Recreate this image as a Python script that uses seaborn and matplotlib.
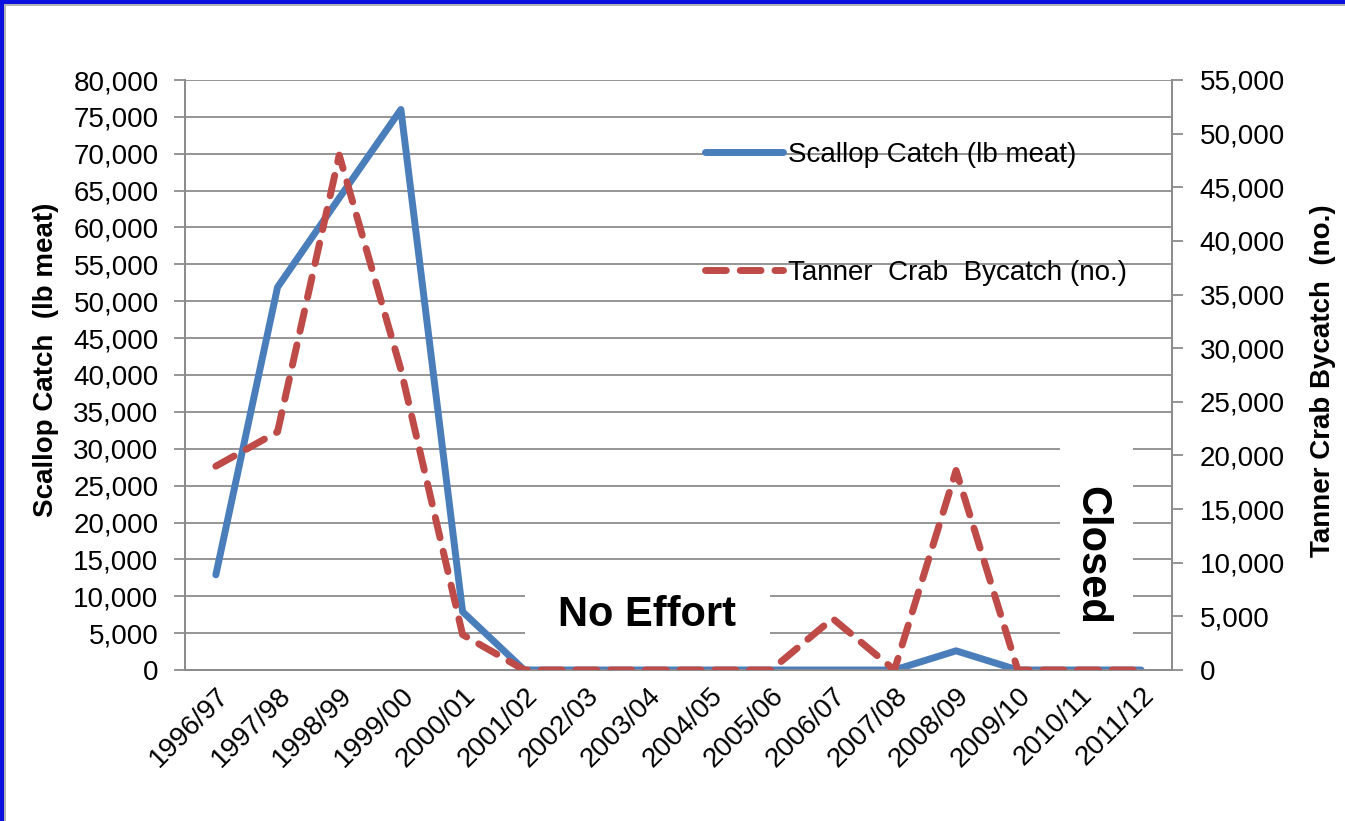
import matplotlib
matplotlib.use("Agg")
import matplotlib.pyplot as plt
from matplotlib.patches import Rectangle
import pandas as pd
import seaborn as sns

seasons = ['1996/97', '1997/98', '1998/99', '1999/00', '2000/01', '2001/02', '2002/03', '2003/04',
           '2004/05', '2005/06', '2006/07', '2007/08', '2008/09', '2009/10', '2010/11', '2011/12']
scallop_lb = [12900, 51900, 64000, 76000, 7900, 0, 0, 0, 0, 0, 0, 0, 2600, 0, 0, 0]
tanner_no = [19000, 22200, 48000, 28000, 3300, 0, 0, 0, 0, 0, 4800, 0, 18600, 0, 0, 0]

left_ticks = list(range(0, 80001, 5000))
right_ticks = list(range(0, 55001, 5000))

df = pd.DataFrame({'Season': seasons, 'Scallop': scallop_lb, 'Tanner': tanner_no})

sns.set_style('white')
plt.rcParams['font.family'] = ['Liberation Sans', 'DejaVu Sans']
plt.rcParams['text.color'] = 'black'
plt.rcParams['axes.labelcolor'] = 'black'
plt.rcParams['xtick.color'] = 'black'
plt.rcParams['ytick.color'] = 'black'

blue = '#4A7EBB'
red = '#BE4B48'
grey = '#8C8C8C'

fig = plt.figure(figsize=(13.45, 8.21), dpi=100)
ax = fig.add_axes([185/1345, 1-670/821, 987/1345, 590/821])
ax2 = ax.twinx()

sns.lineplot(data=df, x='Season', y='Scallop', ax=ax, color=blue, linewidth=5,
             label='Scallop Catch (lb meat)', legend=False, sort=False,
             solid_capstyle='round', zorder=3)
sns.lineplot(data=df, x='Season', y='Tanner', ax=ax2, color=red, linewidth=5,
             label='Tanner  Crab  Bycatch (no.)', legend=False, sort=False,
             dashes=False, zorder=3)
red_line = ax2.get_lines()[0]
red_line.set_dashes((3.0, 2.0))
red_line.set_dash_capstyle('round')

ax.set_xlim(-0.5, len(seasons) - 0.5)
ax.set_ylim(0, 80000)
ax2.set_ylim(0, 55000)
ax.set_yticks(left_ticks)
ax2.set_yticks(right_ticks)
ax.set_yticklabels([f'{v:,}' for v in left_ticks], fontsize=20)
ax2.set_yticklabels([f'{v:,}' for v in right_ticks], fontsize=20)

ax.set_xticks(range(len(seasons)))
ax.set_xticklabels(seasons, rotation=45, ha='right', rotation_mode='anchor', fontsize=20)
ax.set_xticks([i - 0.5 for i in range(len(seasons) + 1)], minor=True)
ax.tick_params(axis='x', which='major', length=0, pad=9)
ax.tick_params(axis='x', which='minor', length=8, width=1.3, color=grey, direction='out')
ax.tick_params(axis='y', length=8, width=1.3, color=grey, direction='out', left=True, pad=11)
ax2.tick_params(axis='y', length=8, width=1.3, color=grey, direction='out', right=True, pad=12)

ax.yaxis.grid(True, color=grey, linewidth=1.3)
ax.xaxis.grid(False)
for a in (ax, ax2):
    for s in ('left', 'right', 'bottom'):
        a.spines[s].set_color(grey)
        a.spines[s].set_linewidth(1.3)
    a.spines['top'].set_visible(False)

ax.set_xlabel('')
ax.set_ylabel('Scallop Catch  (lb meat)', fontsize=20, fontweight='bold')
ax.yaxis.set_label_coords(-0.128, 0.525)
ax2.set_ylabel('Tanner Crab Bycatch  (no.)', fontsize=20, fontweight='bold')
ax2.yaxis.set_label_coords(1.140, 0.49)

# white boxes behind the notes, hiding the grid
ax.add_patch(Rectangle((0.344, 0.025), 0.249, 0.122, transform=ax.transAxes,
                       facecolor='white', edgecolor='none', zorder=1.8))
ax.add_patch(Rectangle((0.887, 0.025), 0.073, 0.355, transform=ax.transAxes,
                       facecolor='white', edgecolor='none', zorder=1.8))
ax.text(0.468, 0.093, 'No Effort', transform=ax.transAxes, fontsize=30, fontweight='bold',
        ha='center', va='center', zorder=2)
ax.text(0.918, 0.195, 'Closed', transform=ax.transAxes, fontsize=30, fontweight='bold',
        rotation=270, ha='center', va='center', zorder=2)

h1, l1 = ax.get_legend_handles_labels()
h2, l2 = ax2.get_legend_handles_labels()
ax2.legend(h1 + h2, l1 + l2, loc='upper left', bbox_to_anchor=(705/1345, 1-142/821),
           bbox_transform=fig.transFigure, frameon=False, fontsize=20,
           handlelength=2.8, handletextpad=0.2, labelspacing=3.3, borderpad=0, borderaxespad=0)

# blue frame on the top and left edges
fig.patches.append(Rectangle((0, 1-4/821), 1, 4/821, transform=fig.transFigure,
                             facecolor='#0A10E0', edgecolor='none'))
fig.patches.append(Rectangle((0, 0), 4/1345, 1, transform=fig.transFigure,
                             facecolor='#0A10E0', edgecolor='none'))
fig.patches.append(Rectangle((4/1345, 1-6/821), 1, 2/821, transform=fig.transFigure,
                             facecolor='#B4B4B4', edgecolor='none'))
fig.patches.append(Rectangle((4/1345, 0), 2/1345, 1-4/821, transform=fig.transFigure,
                             facecolor='#B4B4B4', edgecolor='none'))

fig.savefig('out.png', dpi=100)
